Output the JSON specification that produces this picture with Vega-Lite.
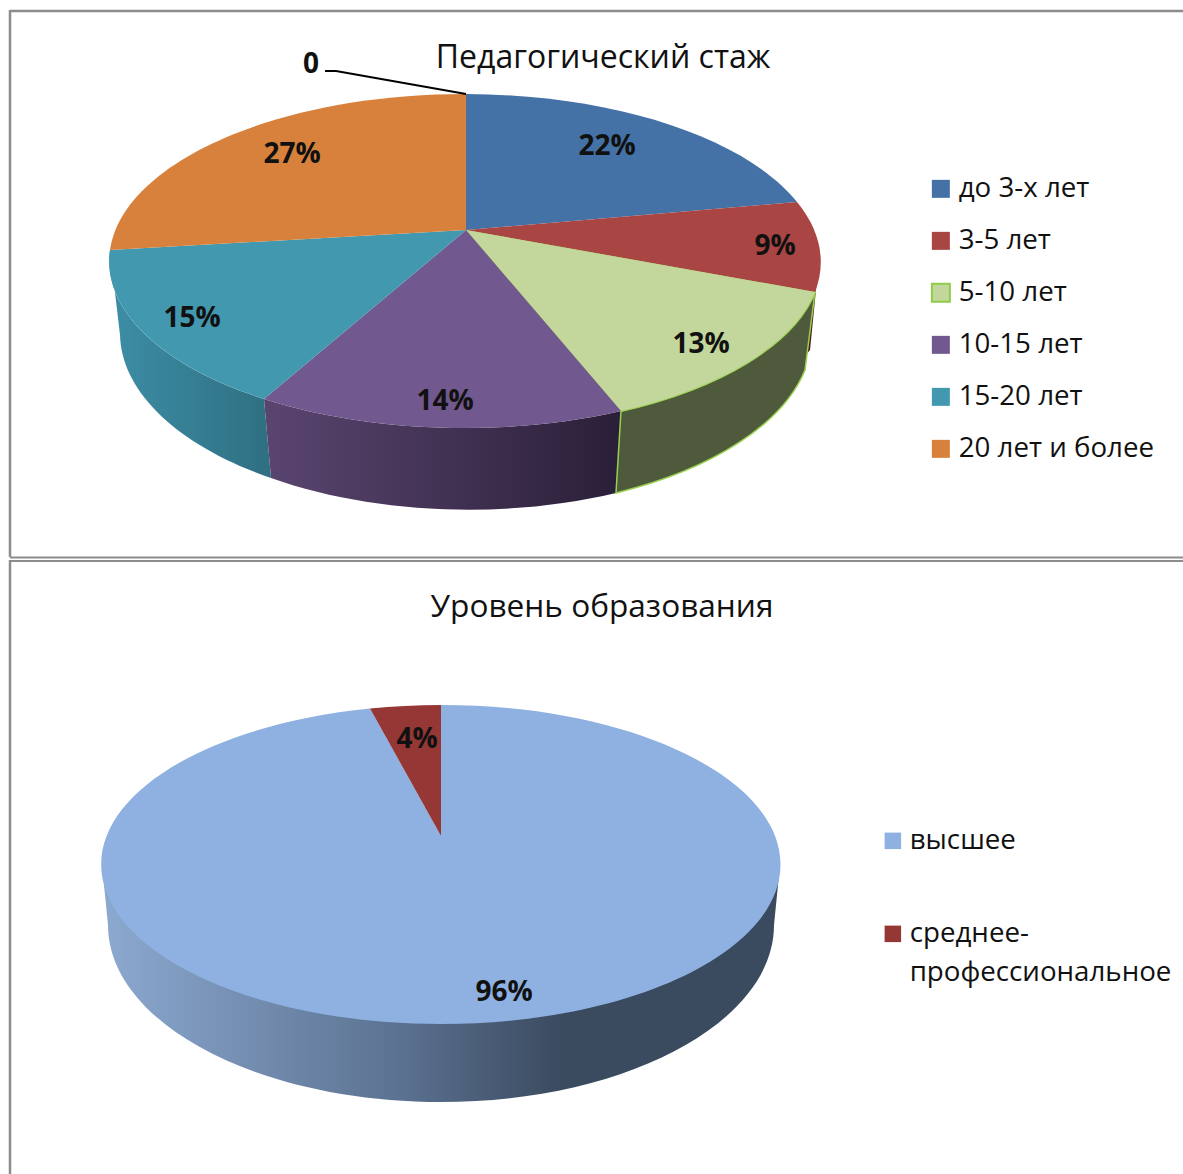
{"$schema":"https://vega.github.io/schema/vega-lite/v6.json","width":1183,"height":1174,"padding":0,"autosize":{"type":"none"},"background":"white","config":{"view":{"stroke":null},"text":{"font":"Open Sans"},"legend":{"labelFont":"Open Sans"}},
"datasets":{"stazh":[{"label":"до 3-х лет","value":22,"pct":"22%"},{"label":"3-5 лет","value":9,"pct":"9%"},{"label":"5-10 лет","value":13,"pct":"13%"},{"label":"10-15 лет","value":14,"pct":"14%"},{"label":"15-20 лет","value":15,"pct":"15%"},{"label":"20 лет и более","value":27,"pct":"27%"}],"obr":[{"label":"высшее","value":96,"pct":"96%"},{"label":"среднее-|профессиональное","value":4,"pct":"4%"}]},
"resolve":{"scale":{"color":"independent"}},
"layer":[
{"data":{"values":[{}]},"layer":[
{"mark":{"type":"rule","stroke":"#8c8c8c","strokeWidth":2.5},"encoding":{"x":{"datum":10,"scale":{"domain":[0,1183],"nice":false,"zero":false},"axis":null},"y":{"datum":10,"scale":{"domain":[0,1174],"reverse":true,"nice":false,"zero":false},"axis":null},"y2":{"datum":557}}},
{"mark":{"type":"rule","stroke":"#8c8c8c","strokeWidth":2.5},"encoding":{"x":{"datum":10,"axis":null},"y":{"datum":560,"axis":null},"y2":{"datum":1174}}},
{"mark":{"type":"rule","stroke":"#8c8c8c","strokeWidth":2.5},"encoding":{"x":{"datum":10,"axis":null},"x2":{"datum":1183},"y":{"datum":11,"axis":null}}},
{"mark":{"type":"rule","stroke":"#8c8c8c","strokeWidth":2},"encoding":{"x":{"datum":10,"axis":null},"x2":{"datum":1183},"y":{"datum":557.5,"axis":null}}},
{"mark":{"type":"rule","stroke":"#8c8c8c","strokeWidth":2},"encoding":{"x":{"datum":10,"axis":null},"x2":{"datum":1183},"y":{"datum":561,"axis":null}}},
{"mark":{"type":"text","text":"Педагогический стаж","fontSize":32,"font":"Open Sans","color":"#111"},"encoding":{"x":{"datum":603,"axis":null},"y":{"datum":58,"axis":null}}},
{"mark":{"type":"text","text":"Уровень образования","fontSize":31.6,"font":"Open Sans","color":"#111"},"encoding":{"x":{"datum":602,"axis":null},"y":{"datum":608,"axis":null}}}
]},
{"data":{"name":"stazh"},"encoding":{"x":{"datum":466,"axis":null},"y":{"datum":230,"axis":null}},"layer":[
{"transform":[{"filter":"datum.label==='15-20 лет'"}],"mark":{"type":"point","filled":true,"opacity":1,"size":4,"shape":"M-356,20 A356,167 0 0,0 -202,169 L-195,248 A346,176 0 0,1 -346,105 Z","fill":{"gradient":"linear","x1":0,"x2":1,"y1":0,"y2":0,"stops":[{"offset":0,"color":"#3c8ea6"},{"offset":1,"color":"#2f6f82"}]}}},
{"transform":[{"filter":"datum.label==='10-15 лет'"}],"mark":{"type":"point","filled":true,"opacity":1,"size":4,"shape":"M-202,169 A356,167 0 0,0 155,181 L150,263 A346,176 0 0,1 -195,248 Z","fill":{"gradient":"linear","x1":0,"x2":1,"y1":0,"y2":0,"stops":[{"offset":0,"color":"#5a4570"},{"offset":1,"color":"#2a1f38"}]}}},
{"transform":[{"filter":"datum.label==='3-5 лет'"}],"mark":{"type":"point","filled":true,"opacity":1,"size":4,"shape":"M349,62 L352,40 L344,120 L340,125 Z","fill":"#4a1a18"}},
{"transform":[{"filter":"datum.label==='5-10 лет'"}],"mark":{"type":"point","filled":true,"opacity":1,"size":4,"shape":"M155,181 A356,167 0 0,0 349,62 L339,140 A346,176 0 0,1 150,263 Z","fill":"#4f593c","stroke":"#9ad04f","strokeWidth":1.5}},
{"transform":[{"filter":"datum.label==='5-10 лет'"}],"mark":{"type":"point","filled":false,"opacity":1,"size":4,"shape":"M0,0 L349,62 A356,167 0 0,1 155,181 Z","stroke":"#9ad04f","strokeWidth":2}},
{"mark":{"type":"point","filled":true,"opacity":1},"encoding":{"size":{"value":4},"color":{"field":"label","type":"nominal","scale":{"domain":["до 3-х лет","3-5 лет","5-10 лет","10-15 лет","15-20 лет","20 лет и более"],"range":["#4471a6","#a94543","#c3d69b","#71588f","#4198af","#d8813c"]},"legend":{"orient":"none","legendX":927,"legendY":175,"title":null,"symbolType":"square","symbolSize":324,"labelFontSize":27.7,"labelColor":"#111","labelOffset":4,"rowPadding":23,"labelLimit":400,"padding":0,"encoding":{"symbols":{"stroke":{"value":{"expr":"datum.value==='5-10 лет'?'#8fcc4a':'transparent'"}},"strokeWidth":{"value":2}}}}},"shape":{"field":"label","type":"nominal","scale":{"domain":["до 3-х лет","3-5 лет","5-10 лет","10-15 лет","15-20 лет","20 лет и более","высшее","среднее-|профессиональное"],"range":["M0,0 L0,-136 A356,167 0 0,1 331,-28 Z","M0,0 L331,-28 A356,167 0 0,1 349,62 Z","M0,0 L349,62 A356,167 0 0,1 155,181 Z","M0,0 L155,181 A356,167 0 0,1 -202,169 Z","M0,0 L-202,169 A356,167 0 0,1 -356,20 Z","M0,0 L-356,20 A356,167 0 0,1 0,-136 Z","M0,0 L0,-131 A339.5,159.5 0 0,1 0,188 A339.5,159.5 0 0,1 -71,-127.5 Z","M0,0 L-71,-127.5 A339.5,159.5 0 0,1 0,-131 Z"]},"legend":null}}},
{"transform":[{"filter":"datum.label==='до 3-х лет'"}],"mark":{"type":"text","fontSize":28,"fontWeight":"bold","dx":141,"dy":-83,"color":"#111"},"encoding":{"text":{"field":"pct"}}},
{"transform":[{"filter":"datum.label==='3-5 лет'"}],"mark":{"type":"text","fontSize":28,"fontWeight":"bold","dx":309,"dy":17,"color":"#111"},"encoding":{"text":{"field":"pct"}}},
{"transform":[{"filter":"datum.label==='5-10 лет'"}],"mark":{"type":"text","fontSize":28,"fontWeight":"bold","dx":235,"dy":115,"color":"#111"},"encoding":{"text":{"field":"pct"}}},
{"transform":[{"filter":"datum.label==='10-15 лет'"}],"mark":{"type":"text","fontSize":28,"fontWeight":"bold","dx":-21,"dy":172,"color":"#111"},"encoding":{"text":{"field":"pct"}}},
{"transform":[{"filter":"datum.label==='15-20 лет'"}],"mark":{"type":"text","fontSize":28,"fontWeight":"bold","dx":-274,"dy":89,"color":"#111"},"encoding":{"text":{"field":"pct"}}},
{"transform":[{"filter":"datum.label==='20 лет и более'"}],"mark":{"type":"text","fontSize":28,"fontWeight":"bold","dx":-174,"dy":-75,"color":"#111"},"encoding":{"text":{"field":"pct"}}},
{"data":{"values":[{"label":"0","value":0}]},"layer":[
{"mark":{"type":"point","filled":false,"opacity":1,"size":4,"shape":"M-141,-159 L-130,-159 L0,-136","stroke":"#000","strokeWidth":2}},
{"mark":{"type":"text","fontSize":28,"fontWeight":"bold","dx":-155,"dy":-165,"color":"#111"},"encoding":{"text":{"field":"label"}}}
]}
]},
{"data":{"name":"obr"},"encoding":{"x":{"datum":441,"axis":null},"y":{"datum":836,"axis":null}},"layer":[
{"transform":[{"filter":"datum.label==='высшее'"}],"mark":{"type":"point","filled":true,"opacity":1,"size":4,"shape":"M-339,29 L339,29 L333,89 A333,177 0 1,1 -333,89 Z","fill":{"gradient":"linear","x1":0,"x2":1,"y1":0,"y2":0,"stops":[{"offset":0,"color":"#8ca9d0"},{"offset":0.45,"color":"#5a708f"},{"offset":0.68,"color":"#3a4a5f"},{"offset":1,"color":"#3a4a5f"}]}}},
{"mark":{"type":"point","filled":true,"opacity":1},"encoding":{"size":{"value":4},"color":{"field":"label","type":"nominal","scale":{"domain":["высшее","среднее-|профессиональное"],"range":["#8eb1e1","#953735"]},"legend":{"orient":"none","legendX":879,"legendY":827,"title":null,"symbolType":"square","symbolSize":272,"labelFontSize":27.7,"labelColor":"#111","labelOffset":3,"rowPadding":64,"labelLimit":400,"padding":0,"labelExpr":"split(datum.label,'|')","encoding":{"labels":{"lineHeight":{"value":39}}}}},"shape":{"field":"label","type":"nominal","scale":{"domain":["до 3-х лет","3-5 лет","5-10 лет","10-15 лет","15-20 лет","20 лет и более","высшее","среднее-|профессиональное"],"range":["M0,0 L0,-136 A356,167 0 0,1 331,-28 Z","M0,0 L331,-28 A356,167 0 0,1 349,62 Z","M0,0 L349,62 A356,167 0 0,1 155,181 Z","M0,0 L155,181 A356,167 0 0,1 -202,169 Z","M0,0 L-202,169 A356,167 0 0,1 -356,20 Z","M0,0 L-356,20 A356,167 0 0,1 0,-136 Z","M0,0 L0,-131 A339.5,159.5 0 0,1 0,188 A339.5,159.5 0 0,1 -71,-127.5 Z","M0,0 L-71,-127.5 A339.5,159.5 0 0,1 0,-131 Z"]},"legend":null}}},
{"transform":[{"filter":"datum.label==='высшее'"}],"mark":{"type":"text","fontSize":28,"fontWeight":"bold","dx":63,"dy":157,"color":"#111"},"encoding":{"text":{"field":"pct"}}},
{"transform":[{"filter":"datum.value===4"}],"mark":{"type":"text","fontSize":28,"fontWeight":"bold","dx":-24,"dy":-96,"color":"#111"},"encoding":{"text":{"field":"pct"}}}
]}
]}
